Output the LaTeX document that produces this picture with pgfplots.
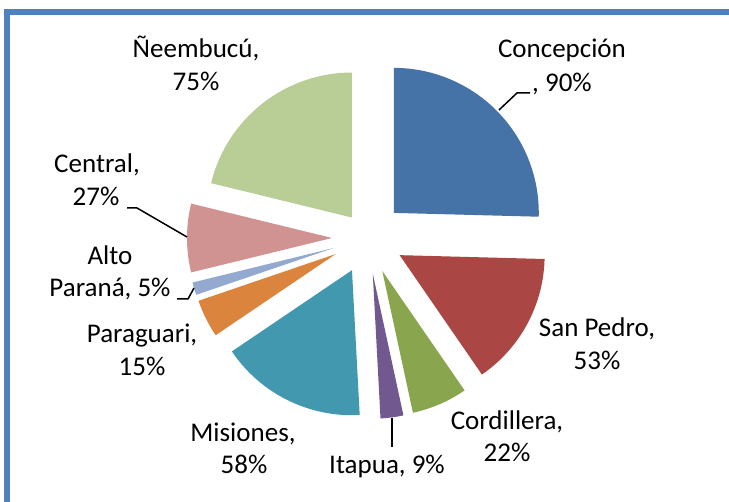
\documentclass[border=0pt]{standalone}
\usepackage{fontspec}
\setmainfont{Carlito}
\usepackage{pgfplots}
\usepackage{pgfplotstable}
\pgfplotsset{compat=1.18}

\definecolor{c0}{HTML}{4572A7}
\definecolor{c1}{HTML}{AA4643}
\definecolor{c2}{HTML}{89A54E}
\definecolor{c3}{HTML}{71588F}
\definecolor{c4}{HTML}{4198AF}
\definecolor{c5}{HTML}{DB843D}
\definecolor{c6}{HTML}{93A9CF}
\definecolor{c7}{HTML}{D19392}
\definecolor{c8}{HTML}{B9CD96}
\definecolor{frameblue}{HTML}{4F81BD}

% value (percent) and explosion distance (px) per department, clockwise from 12 o'clock
\pgfplotstableread{
v d
90 36
53 36
22 36
9 36
58 36
15 36
5 36
27 36
75 26
}\piedata

\def\pieTotal{0}
\pgfplotsforeachungrouped \i in {0,...,8}{%
  \pgfplotstablegetelem{\i}{v}\of\piedata
  \pgfmathsetmacro\pieTotal{\pieTotal+\pgfplotsretval}%
}
\def\pieCum{0}
\pgfplotsforeachungrouped \i in {0,...,8}{%
  \pgfplotstablegetelem{\i}{v}\of\piedata \let\pieV\pgfplotsretval
  \pgfplotstablegetelem{\i}{d}\of\piedata \let\pieD\pgfplotsretval
  \pgfmathsetmacro\pieA{90-(\pieCum/\pieTotal)*360}%
  \pgfmathsetmacro\pieCum{\pieCum+\pieV}%
  \pgfmathsetmacro\pieB{90-(\pieCum/\pieTotal)*360}%
  \pgfmathsetmacro\pieM{(\pieA+\pieB)/2}%
  \pgfmathsetmacro\pieX{368+\pieD*cos(\pieM)}%
  \pgfmathsetmacro\pieY{264+\pieD*sin(\pieM)}%
  \expandafter\xdef\csname pieA\i\endcsname{\pieA}%
  \expandafter\xdef\csname pieB\i\endcsname{\pieB}%
  \expandafter\xdef\csname pieX\i\endcsname{\pieX}%
  \expandafter\xdef\csname pieY\i\endcsname{\pieY}%
}

\begin{document}
\begin{tikzpicture}[lbl/.style={anchor=base, inner sep=0pt, font=\fontsize{13.5}{16}\selectfont}]
\begin{axis}[x=0.5pt,y=0.5pt,xmin=0,xmax=729,ymin=0,ymax=502,
  hide axis, clip=false, scale only axis]
\fill[white] (axis cs:0,0) rectangle (axis cs:729,502);
\fill[frameblue] (axis cs:4,0) rectangle (axis cs:9.5,492.5);
\fill[frameblue] (axis cs:4,487) rectangle (axis cs:729,492.5);

\pgfplotsinvokeforeach{0,...,8}{%
  \edef\temp{\noexpand\fill[c#1] (axis cs:\csname pieX#1\endcsname,\csname pieY#1\endcsname)
    -- ++(\csname pieA#1\endcsname:72.5pt)
    arc[start angle=\csname pieA#1\endcsname, end angle=\csname pieB#1\endcsname, radius=72.5pt] -- cycle;}%
  \temp
}

% leader lines
\draw[black, line width=0.75pt] (axis cs:499,392) -- (axis cs:517,409) -- (axis cs:530,409);
\draw[black, line width=0.75pt] (axis cs:187,265) -- (axis cs:137,294) -- (axis cs:127,294);
\draw[black, line width=0.75pt] (axis cs:194,214) -- (axis cs:188,203) -- (axis cs:177,203);
\draw[black, line width=0.75pt] (axis cs:392,84) -- (axis cs:392,55);

% labels
\node[lbl] at (axis cs:562,444) {Concepción};
\node[lbl] at (axis cs:562,410) {, 90\%};
\node[lbl] at (axis cs:196,444) {Ñeembucú,};
\node[lbl] at (axis cs:196,411) {75\%};
\node[lbl] at (axis cs:97,329) {Central,};
\node[lbl] at (axis cs:96,296) {27\%};
\node[lbl] at (axis cs:110,237) {Alto};
\node[lbl] at (axis cs:110,205) {Paraná, 5\%};
\node[lbl] at (axis cs:142,159) {Paraguari,};
\node[lbl] at (axis cs:142,126) {15\%};
\node[lbl] at (axis cs:597,165) {San Pedro,};
\node[lbl] at (axis cs:597,132) {53\%};
\node[lbl] at (axis cs:243,60) {Misiones,};
\node[lbl] at (axis cs:244,28) {58\%};
\node[lbl] at (axis cs:387,28) {Itapua, 9\%};
\node[lbl] at (axis cs:507,72) {Cordillera,};
\node[lbl] at (axis cs:507,40) {22\%};
\end{axis}
\end{tikzpicture}
\end{document}
